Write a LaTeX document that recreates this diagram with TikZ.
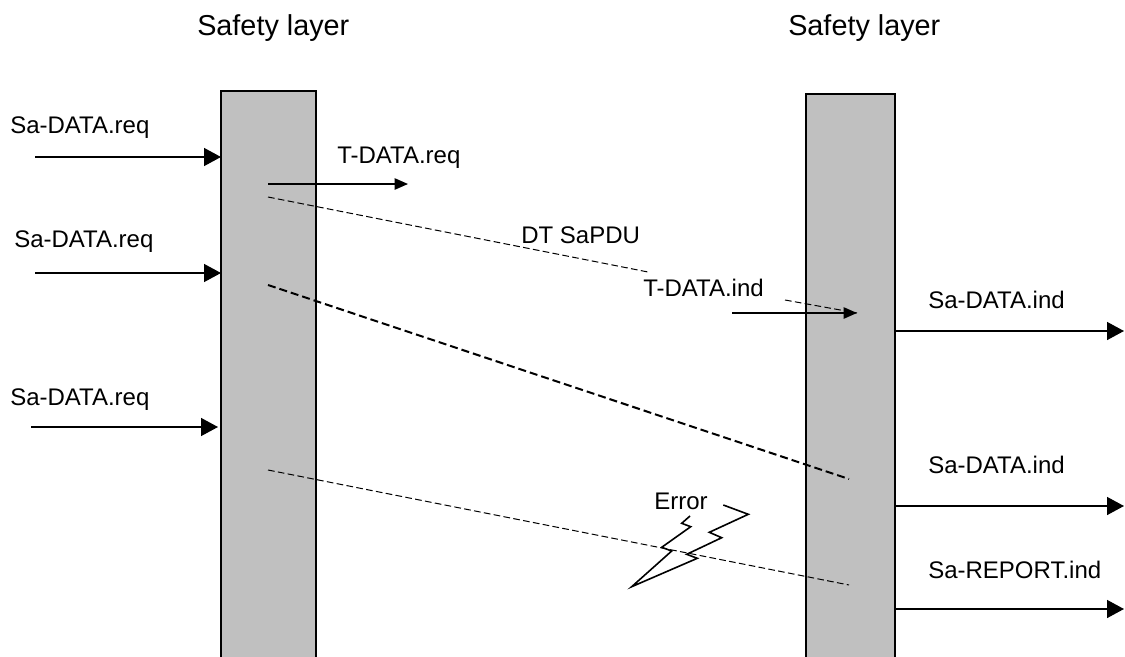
\documentclass[tikz,border=0pt]{standalone}
\usepackage{fontspec}
\setmainfont{Liberation Sans}
\usetikzlibrary{arrows.meta}
\definecolor{bargray}{HTML}{C0C0C0}
\tikzset{
  lbl/.style={anchor=base west, inner sep=0pt, font=\fontsize{18pt}{20pt}\selectfont},
  ttl/.style={anchor=base west, inner sep=0pt, font=\fontsize{21.6pt}{24pt}\selectfont},
  bigarrow/.style={line width=1.1pt, -{Triangle[length=12.75pt,width=13.5pt]}},
  smallarrow/.style={line width=1.1pt, -{Triangle[length=10pt,width=8.5pt]}},
  thindash/.style={line width=0.75pt, dash pattern=on 5pt off 2.5pt},
  thickdash/.style={line width=1.5pt, dash pattern=on 6pt off 3pt},
  barfill/.style={fill=bargray, draw=none},
  baredge/.style={line width=0.9pt},
  bolt/.style={line width=1.2pt, line join=miter}
}
\begin{document}
\begin{tikzpicture}[x=0.75pt,y=-0.75pt]
\useasboundingbox (0,0) rectangle (1125,657);
% bars
\node[barfill, minimum width=95*0.75pt, minimum height=570*0.75pt, anchor=north west, inner sep=0pt] (lbar) at (221,91) {};
\node[barfill, minimum width=89*0.75pt, minimum height=570*0.75pt, anchor=north west, inner sep=0pt] (rbar) at (806,94) {};
\draw[baredge] (221,657) -- (221,91) -- (316,91) -- (316,657);
\draw[baredge] (806,657) -- (806,94) -- (895,94) -- (895,657);
% titles
\node[ttl] (t1) at (197,35) {Safety layer};
\node[ttl] (t2) at (788,35) {Safety layer};
% left inputs
\coordinate (a1s) at (35,157); \coordinate (a1e) at (221,157);
\coordinate (a2s) at (35,273); \coordinate (a2e) at (221,273);
\coordinate (a3s) at (31,427); \coordinate (a3e) at (218,427);
\draw[bigarrow] (a1s) -- (a1e);
\draw[bigarrow] (a2s) -- (a2e);
\draw[bigarrow] (a3s) -- (a3e);
\node[lbl] (l1) at (10,133) {Sa-DATA.req};
\node[lbl] (l2) at (14,247) {Sa-DATA.req};
\node[lbl] (l3) at (10,405) {Sa-DATA.req};
% T-DATA.req
\coordinate (treqs) at (268,184); \coordinate (treqe) at (408,184);
\draw[smallarrow] (treqs) -- (treqe);
\node[lbl] (ltreq) at (337,163) {T-DATA.req};
% dashed 1
\coordinate (d1s) at (268,197); \coordinate (d1m) at (648,272);
\coordinate (d1n) at (785,300); \coordinate (d1e) at (857,313);
\draw[thindash] (d1s) -- (d1m);
\draw[thindash] (d1n) -- (d1e);
\node[lbl] (ldt) at (521,243) {DT SaPDU};
\node[lbl] (ltind) at (643,296) {T-DATA.ind};
\coordinate (tinds) at (732,313);
\draw[smallarrow] (tinds) -- (d1e);
% dashed 2
\coordinate (d2s) at (268,285); \coordinate (d2e) at (849,479);
\draw[thickdash] (d2s) -- (d2e);
% dashed 3
\coordinate (d3s) at (268,470); \coordinate (d3e) at (849,585);
\draw[thindash] (d3s) -- (d3e);
% error bolt
\draw[bolt] (690,516) -- (681.7,523.3) -- (690.7,526.7) -- (661.7,547.3) -- (671.7,551) -- (631.7,586.7) -- (697.3,558.3) -- (686.7,554.3) -- (721.7,537.7) -- (709.3,532.3) -- (748.3,514.3) -- (723.3,505);
\node[lbl] (lerr) at (654,509) {Error};
% right outputs
\coordinate (r1s) at (895,331); \coordinate (r1e) at (1124,331);
\coordinate (r2s) at (895,506); \coordinate (r2e) at (1124,506);
\coordinate (r3s) at (895,609); \coordinate (r3e) at (1124,609);
\draw[bigarrow] (r1s) -- (r1e);
\draw[bigarrow] (r2s) -- (r2e);
\draw[bigarrow] (r3s) -- (r3e);
\node[lbl] (lr1) at (928,308) {Sa-DATA.ind};
\node[lbl] (lr2) at (928,473) {Sa-DATA.ind};
\node[lbl] (lr3) at (928,578) {Sa-REPORT.ind};
\end{tikzpicture}
\end{document}
